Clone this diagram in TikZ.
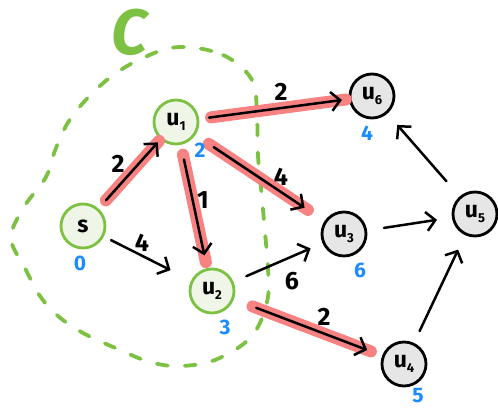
\documentclass[tikz,border=0pt]{standalone}
\usepackage{fontspec}
\setmainfont{Fira Sans}
\usetikzlibrary{arrows.meta}
\definecolor{cgreen}{HTML}{7CC142}
\definecolor{cgreenfill}{HTML}{EFF6E8}
\definecolor{cgray}{HTML}{E6E6E6}
\definecolor{cred}{HTML}{F88282}
\definecolor{cblue}{HTML}{1A8CFF}
\newcommand\usb[1]{u\raisebox{-0.35ex}{\fontsize{13}{13}\selectfont #1}}
\begin{document}
\begin{tikzpicture}[x=1pt,y=-1pt,
  gnode/.style={circle, draw=cgreen, fill=cgreenfill, line width=2.8pt, minimum size=44pt, inner sep=0pt, font=\fontsize{23}{23}\selectfont\bfseries},
  knode/.style={circle, draw=black, fill=cgray, line width=2.8pt, minimum size=44pt, inner sep=0pt, font=\fontsize{23}{23}\selectfont\bfseries},
  edge/.style={draw=black, line width=2.5pt, line cap=round, -{Straight Barb[length=9pt,width=19pt,line width=2.5pt]}},
  hl/.style={draw=cred, line width=12pt, line cap=round},
  elab/.style={font=\fontsize{25}{25}\selectfont\bfseries, inner sep=0pt},
  dlab/.style={text=cblue, font=\fontsize{21}{21}\selectfont\bfseries, inner sep=0pt},
  blob/.style={draw=cgreen, line width=3.8pt, line cap=round, dash pattern=on 11pt off 17pt},
]
\useasboundingbox (0,0) rectangle (498,410);

% region C
\draw[blob] plot[smooth cycle, tension=0.6] coordinates {
 (180,47) (223,55) (252,80) (257,118) (258,156) (262,198) (265,233) (268,268)
 (267,302) (251,337) (215,360) (179,366) (150,362) (120,350) (83,333) (58,316) (40,296)
 (25,268) (11,238) (24,207) (46,177) (56,148) (73,115) (108,79) (145,57)};
\node[text=cgreen, font=\fontsize{64}{64}\selectfont\bfseries\itshape, inner sep=0pt] (clab) at (130,32) {C};

% nodes
\node[gnode] (s)  at (83,226) {s};
\node[gnode] (u1) at (176,122) {\usb{1}};
\node[gnode] (u2) at (212,291) {\usb{2}};
\node[knode] (u6) at (372,96) {\usb{6}};
\node[knode] (u3) at (344,234) {\usb{3}};
\node[knode] (u5) at (475,214) {\usb{5}};
\node[knode] (u4) at (404,364) {\usb{4}};

% highlights
\draw[hl, shorten <=11pt, shorten >=2pt] (s) -- (u1);
\draw[hl, shorten <=12pt, shorten >=3pt] (u1) -- (u6);
\draw[hl, shorten <=10pt, shorten >=6pt] (u1) -- (u2);
\draw[hl, shorten <=16pt, shorten >=20pt] (u1) -- (u3);
\draw[hl, shorten <=20pt, shorten >=12pt] (u2) -- (u4);

% edges
\draw[edge, shorten <=11pt, shorten >=4pt] (s) -- (u1);
\draw[edge, shorten <=10pt, shorten >=7pt] (u1) -- (u6);
\draw[edge, shorten <=15pt, shorten >=13pt] (u1) -- (u2);
\draw[edge, shorten <=22pt, shorten >=24pt] (u1) -- (u3);
\draw[edge, shorten <=8pt, shorten >=23pt] (s) -- (u2);
\draw[edge, shorten <=14pt, shorten >=13pt] (u2) -- (u3);
\draw[edge, shorten <=24pt, shorten >=16pt] (u2) -- (u4);
\draw[edge, shorten <=17pt, shorten >=15pt] (u3) -- (u5);
\draw[edge, shorten <=13pt, shorten >=16pt] (u4) -- (u5);
\draw[edge, shorten <=20pt, shorten >=15pt] (u5) -- (u6);

% edge weights
\node[elab] (w1) at (118,164) {2};
\node[elab] (w2) at (203,200) {1};
\node[elab] (w3) at (281,177) {4};
\node[elab] (w4) at (281,92) {2};
\node[elab] (w5) at (142,243) {4};
\node[elab] (w6) at (292,281) {6};
\node[elab] (w7) at (324,317) {2};

% distances
\node[dlab] (d0) at (80,263) {0};
\node[dlab] (d1) at (200,150) {2};
\node[dlab] (d2) at (225,327) {3};
\node[dlab] (d6) at (367,133) {4};
\node[dlab] (d3) at (360,270) {6};
\node[dlab] (d4) at (418,396) {5};
\end{tikzpicture}
\end{document}
